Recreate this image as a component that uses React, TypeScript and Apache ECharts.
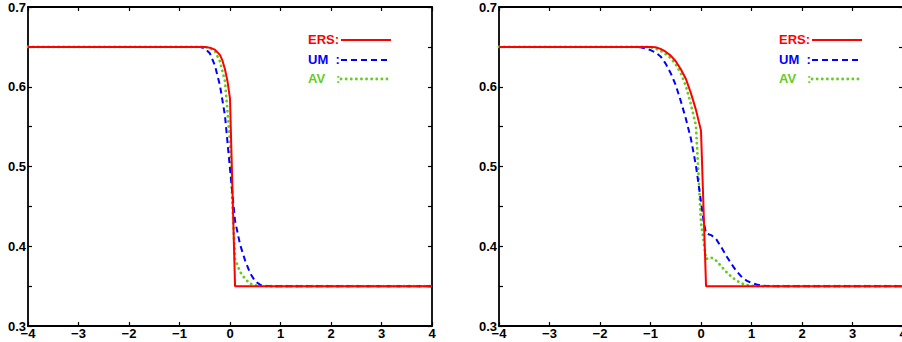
import React, { useEffect, useRef } from "react";
import * as echarts from "echarts";

// Left panel
const ersLeft: number[][] = [
  [-4, 0.65], [-0.5, 0.65], [-0.4, 0.649], [-0.3, 0.6465], [-0.2, 0.64], [-0.15, 0.633],
  [-0.1, 0.622], [-0.05, 0.607], [0, 0.585], [0.1, 0.35], [4, 0.35],
];
const umLeft: number[][] = [
  [-4, 0.65], [-0.6, 0.65], [-0.5, 0.648], [-0.4, 0.642], [-0.3, 0.627], [-0.2, 0.602],
  [-0.1, 0.564], [0, 0.497], [0.1, 0.432], [0.2, 0.402], [0.3, 0.382], [0.4, 0.366],
  [0.5, 0.356], [0.6, 0.3515], [0.7, 0.3503], [0.8, 0.35], [4, 0.35],
];
const avLeft: number[][] = [
  [-4, 0.65], [-0.5, 0.65], [-0.4, 0.6485], [-0.3, 0.645], [-0.2, 0.632], [-0.1, 0.607],
  [0, 0.53], [0.05, 0.45], [0.1, 0.384], [0.2, 0.368], [0.3, 0.359], [0.4, 0.353],
  [0.5, 0.351], [0.6, 0.3503], [0.7, 0.35], [4, 0.35],
];

// Right panel
const ersRight: number[][] = [
  [-4, 0.65], [-1.0, 0.65], [-0.9, 0.6495], [-0.8, 0.6475], [-0.7, 0.644], [-0.6, 0.639],
  [-0.5, 0.632], [-0.4, 0.622], [-0.3, 0.61], [-0.2, 0.592], [-0.1, 0.571], [0, 0.545],
  [0.1, 0.35], [4, 0.35],
];
const umRight: number[][] = [
  [-4, 0.65], [-1.3, 0.65], [-1.2, 0.6495], [-1.1, 0.648], [-1.0, 0.646], [-0.9, 0.643],
  [-0.8, 0.638], [-0.7, 0.629], [-0.6, 0.617], [-0.5, 0.602], [-0.4, 0.582], [-0.3, 0.56],
  [-0.2, 0.535], [-0.1, 0.501], [0, 0.456], [0.05, 0.432], [0.1, 0.416], [0.2, 0.414],
  [0.3, 0.409], [0.4, 0.399], [0.5, 0.388], [0.6, 0.378], [0.7, 0.369], [0.8, 0.362],
  [0.9, 0.357], [1.0, 0.354], [1.1, 0.352], [1.2, 0.3508], [1.3, 0.3502], [1.4, 0.35], [4, 0.35],
];
const avRight: number[][] = [
  [-4, 0.65], [-1.1, 0.65], [-1.0, 0.6495], [-0.9, 0.648], [-0.8, 0.645], [-0.7, 0.641],
  [-0.6, 0.636], [-0.5, 0.628], [-0.4, 0.617], [-0.3, 0.601], [-0.2, 0.578], [-0.1, 0.551],
  [0, 0.43], [0.1, 0.384], [0.2, 0.386], [0.3, 0.382], [0.4, 0.375], [0.5, 0.368],
  [0.6, 0.362], [0.7, 0.357], [0.8, 0.3535], [0.9, 0.3515], [1.0, 0.3505], [1.1, 0.35], [4, 0.35],
];

const seriesNames = ["ERS", "UM", "AV"];
const legendLabels = ["ERS:", "UM\u00a0\u00a0:", "AV\u00a0\u00a0\u00a0:"];
const seriesColors = ["#ff0000", "#0000ff", "#66cc22"];
const xMin = -4;
const xMax = 4;
const yMin = 0.3;
const yMax = 0.7;

const FONT = "'Liberation Sans', Arial, sans-serif";

export default function App() {
  const ref = useRef<HTMLDivElement>(null);
  useEffect(() => {
    document.body.style.margin = "0";
    if (!ref.current) return;
    const chart = echarts.init(ref.current, undefined, { renderer: "svg" });
    const grids = [
      { left: 28, top: 7, width: 404, height: 319, outerBoundsMode: "none", containLabel: false },
      { left: 499, top: 7, width: 404, height: 319, outerBoundsMode: "none", containLabel: false },
    ];
    const axisLine = { show: true, onZero: false, lineStyle: { color: "#000", width: 1.8 } };
    const tick = { show: true, inside: true, length: 4, lineStyle: { color: "#000", width: 1.2 } };
    const xAxes: any[] = [];
    const yAxes: any[] = [];
    grids.forEach((_, g) => {
      xAxes.push({
        type: "value", gridIndex: g, min: xMin, max: xMax, interval: 1, position: "bottom",
        axisLine, axisTick: tick, splitLine: { show: false },
        axisLabel: {
          show: true, margin: 1, color: "#000", fontFamily: FONT, fontWeight: "bold", fontSize: 13,
          formatter: (v: number) => (v < 0 ? "\u2212" + Math.abs(v) : String(v)),
        },
      });
      xAxes.push({
        type: "value", gridIndex: g, min: xMin, max: xMax, interval: 1, position: "top",
        axisLine, axisTick: tick, splitLine: { show: false }, axisLabel: { show: false },
      });
      yAxes.push({
        type: "value", gridIndex: g, min: yMin, max: yMax, interval: 0.05, position: "left",
        axisLine, axisTick: tick, splitLine: { show: false },
        axisLabel: {
          show: true, margin: 2, color: "#000", fontFamily: FONT, fontWeight: "bold", fontSize: 13,
          formatter: (v: number) => (Math.round(v * 100) % 10 === 0 ? v.toFixed(1) : ""),
        },
      });
      yAxes.push({
        type: "value", gridIndex: g, min: yMin, max: yMax, interval: 0.05, position: "right",
        axisLine, axisTick: tick, splitLine: { show: false }, axisLabel: { show: false },
      });
    });
    const lineStyles: any[] = [
      { width: 2, type: "solid" },
      { width: 2, type: [6, 4] },
      { width: 2.8, type: [0.1, 5], cap: "round" },
    ];
    const panels = [
      [ersLeft, umLeft, avLeft],
      [ersRight, umRight, avRight],
    ];
    const series: any[] = [];
    panels.forEach((p, g) => {
      p.forEach((data, i) => {
        series.push({
          type: "line", name: seriesNames[i], data, xAxisIndex: g * 2, yAxisIndex: g * 2,
          symbol: "none", z: 10 - i, color: seriesColors[i],
          lineStyle: { color: seriesColors[i], ...lineStyles[i] },
        });
      });
    });
    // legend drawn as graphic (text followed by line sample)
    const legendX = [308, 779];
    const rowY = [40, 60, 79];
    const graphic: any[] = [];
    legendX.forEach((lx) => {
      seriesNames.forEach((_, i) => {
        graphic.push({
          type: "text", left: lx, top: rowY[i] - 7, z: 100,
          style: {
            text: legendLabels[i], fill: seriesColors[i], font: `bold 13px ${FONT}`,
          },
        });
        graphic.push({
          type: "line", z: 100,
          shape: { x1: lx + 33, y1: rowY[i], x2: lx + 83, y2: rowY[i] },
          style: {
            stroke: seriesColors[i], lineWidth: lineStyles[i].width,
            lineDash: Array.isArray(lineStyles[i].type) ? lineStyles[i].type : null,
            lineCap: lineStyles[i].cap || "butt",
          },
        });
      });
    });
    chart.setOption({
      animation: false,
      backgroundColor: "#fff",
      grid: grids,
      xAxis: xAxes,
      yAxis: yAxes,
      series,
      graphic,
    });
    return () => chart.dispose();
  }, []);
  return <div ref={ref} style={{ width: 902, height: 342 }} />;
}
